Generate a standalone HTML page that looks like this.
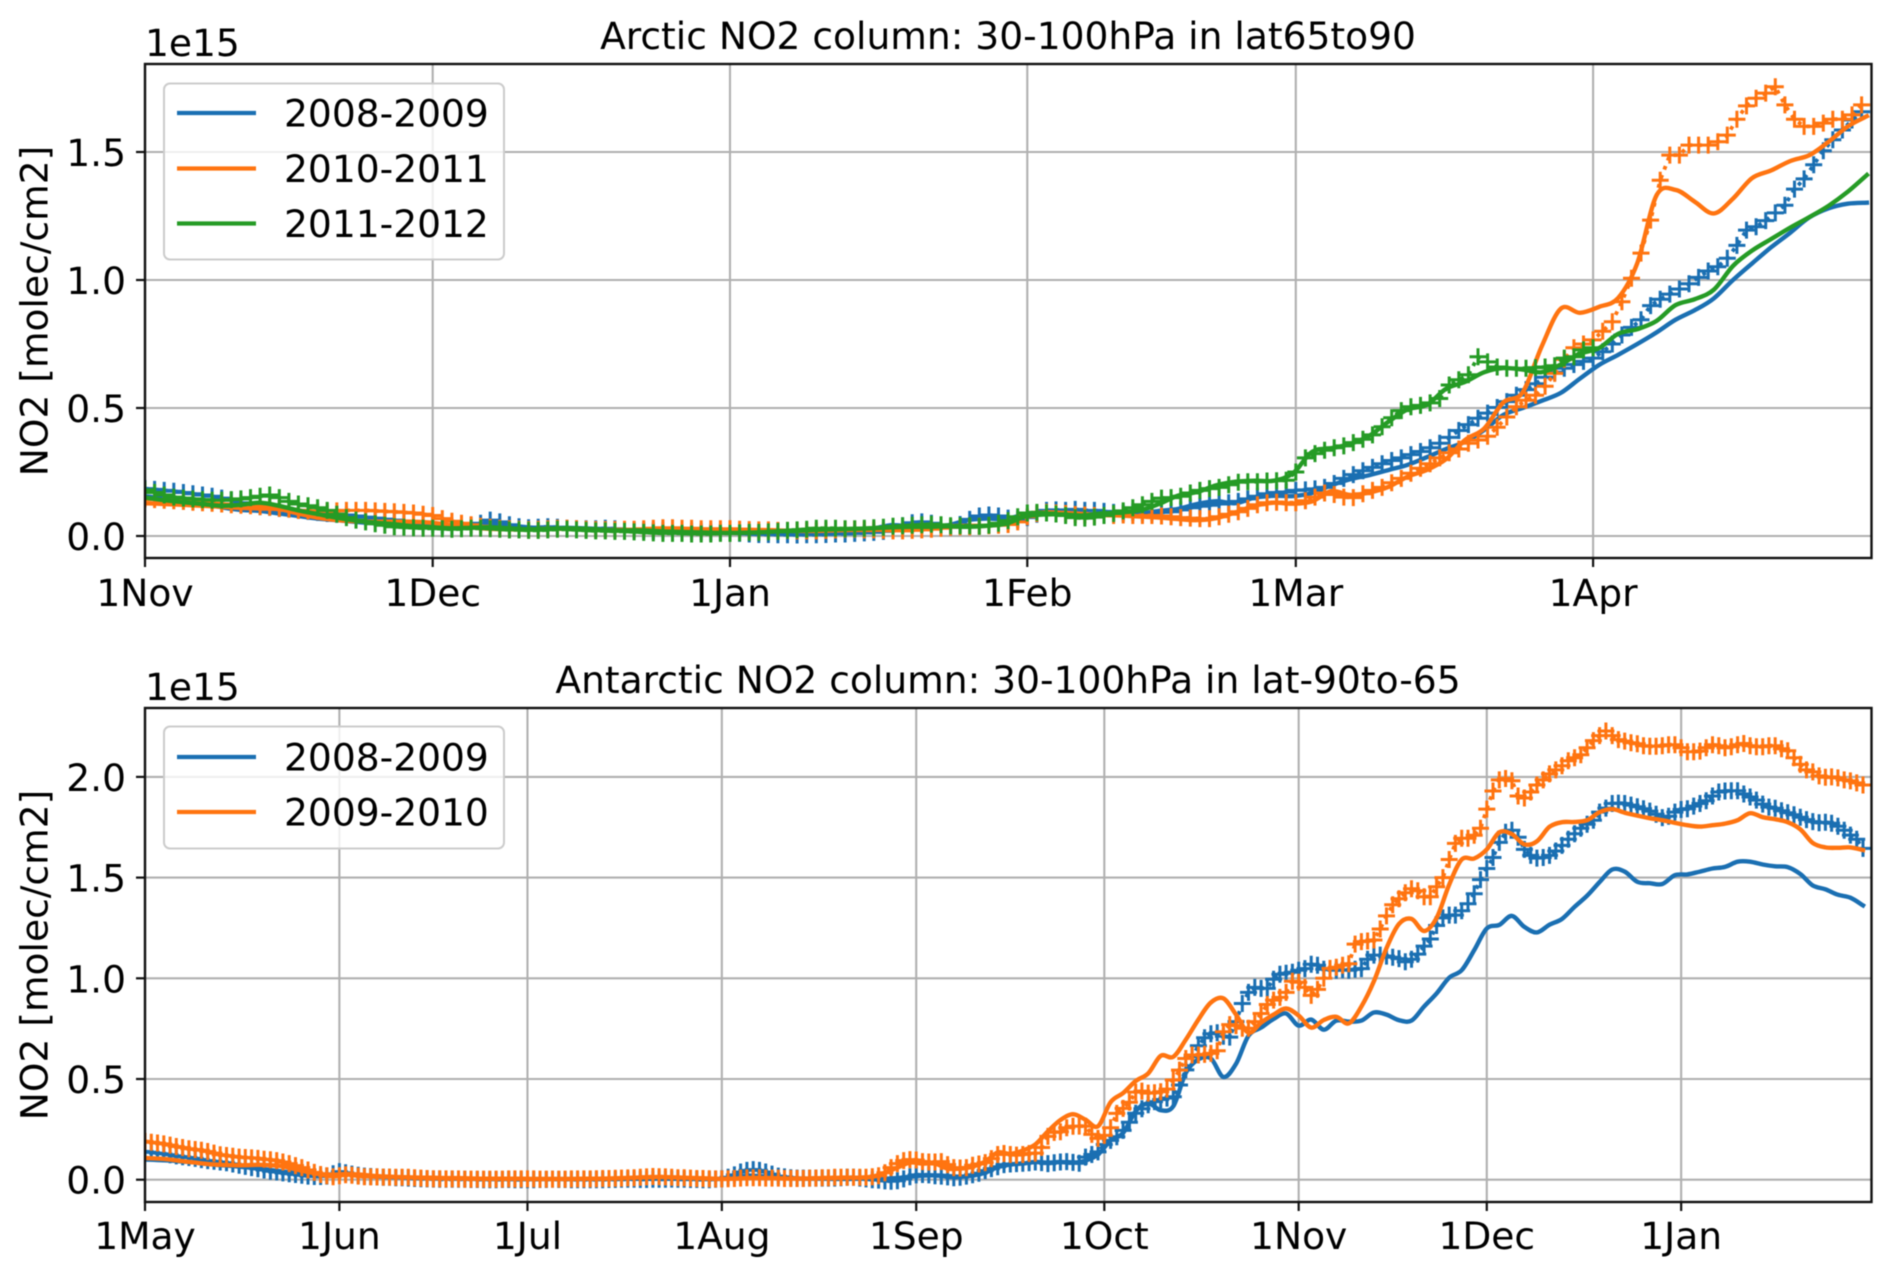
<!DOCTYPE html>
<html lang="en">
<head>
<meta charset="utf-8">
<title>Arctic and Antarctic NO2 column</title>
<style>
html,body{margin:0;padding:0;background:#fff;width:1892px;height:1277px;overflow:hidden}
svg{display:block;filter:blur(.45px)}
text{font-family:"DejaVu Sans","Liberation Sans",sans-serif;font-size:37.6px;fill:#000}
.leg{fill:#fff;fill-opacity:.8;stroke:#ccc;stroke-width:2}
.frame{fill:none;stroke:#111;stroke-width:2.4}
</style>
</head>
<body>
<svg xmlns="http://www.w3.org/2000/svg" width="1892" height="1277" viewBox="0 0 1892 1277">
<defs>
<clipPath id="clip-top"><rect x="145" y="64" width="1726.5" height="494"/></clipPath>
<clipPath id="clip-bot"><rect x="145" y="708" width="1726.5" height="494"/></clipPath>
</defs>
<rect width="1892" height="1277" fill="#fff"/>

<g>
<g id="top-grid"></g>
<g id="top-series" clip-path="url(#clip-top)"></g>
<rect class="frame" x="145" y="64" width="1726.5" height="494"/>
<g id="top-ticks"></g>
<text x="1008" y="49" text-anchor="middle">Arctic NO2 column: 30-100hPa in lat65to90</text>
<text x="145" y="56">1e15</text>
<text transform="translate(47.5,311) rotate(-90)" text-anchor="middle">NO2 [molec/cm2]</text>
<g>
<rect class="leg" x="164" y="83.5" width="340" height="176" rx="6"/>
<line x1="177" x2="256" y1="113" y2="113" stroke="#1a6fb2" stroke-width="4.2"/>
<text x="284" y="126.5">2008-2009</text>
<line x1="177" x2="256" y1="168.5" y2="168.5" stroke="#ff7410" stroke-width="4.2"/>
<text x="284" y="182">2010-2011</text>
<line x1="177" x2="256" y1="223.5" y2="223.5" stroke="#259b25" stroke-width="4.2"/>
<text x="284" y="237">2011-2012</text>
</g>
</g>

<g>
<g id="bot-grid"></g>
<g id="bot-series" clip-path="url(#clip-bot)"></g>
<rect class="frame" x="145" y="708" width="1726.5" height="494"/>
<g id="bot-ticks"></g>
<text x="1008" y="693" text-anchor="middle">Antarctic NO2 column: 30-100hPa in lat-90to-65</text>
<text x="145" y="700">1e15</text>
<text transform="translate(47.5,955) rotate(-90)" text-anchor="middle">NO2 [molec/cm2]</text>
<g>
<rect class="leg" x="164" y="726.5" width="340" height="122" rx="6"/>
<line x1="177" x2="256" y1="757" y2="757" stroke="#1a6fb2" stroke-width="4.2"/>
<text x="284" y="770.5">2008-2009</text>
<line x1="177" x2="256" y1="812" y2="812" stroke="#ff7410" stroke-width="4.2"/>
<text x="284" y="825.5">2009-2010</text>
</g>
</g>
</svg>

<script>
// All values are in units of 1e12 molec/cm2. Marker series are daily, solid series every 2 days.
const arcticMonthLabels = ['1Nov','1Dec','1Jan','1Feb','1Mar','1Apr'];
const arcticMonthDays = [0,30,61,92,120,151];
const arcticYTicks = [0,0.5,1.0,1.5];
const antarcticMonthLabels = ['1May','1Jun','1Jul','1Aug','1Sep','1Oct','1Nov','1Dec','1Jan'];
const antarcticMonthDays = [0,31,61,92,123,153,184,214,245];
const antarcticYTicks = [0,0.5,1.0,1.5,2.0];

const arcticBlueSolid = [
155,148,140,128,112,102,98,88,78,68,
62,55,50,45,40,36,32,38,50,42,
34,30,32,30,26,24,22,20,20,18,
16,14,14,15,16,18,20,22,28,42,
38,35,42,62,68,66,85,92,92,88,
84,84,88,98,106,125,136,128,150,157,
156,168,198,222,238,258,278,308,340,368,
414,473,500,528,559,615,668,708,750,795,
845,882,928,1000,1065,1128,1185,1245,1280,1298,
1302];
const arcticOrangeSolid = [
128,125,122,118,114,110,108,105,88,72,
62,58,56,56,56,52,42,34,28,26,
25,28,28,26,24,24,24,26,28,26,
25,24,24,22,20,20,22,24,24,28,
28,32,38,40,40,50,85,92,90,86,
82,80,76,72,66,62,70,92,118,130,
126,135,175,160,170,192,232,258,300,375,
420,522,560,740,888,872,895,930,1066,1330,
1352,1306,1260,1318,1398,1428,1465,1488,1540,1600,
1640];
const arcticGreenSolid = [
150,140,132,125,118,122,130,118,100,86,
72,60,52,46,38,34,30,32,34,30,
26,28,30,28,24,22,22,18,16,14,
12,12,14,18,20,24,26,28,30,34,
36,36,38,36,40,48,76,84,84,80,
88,92,100,125,158,172,198,212,216,216,
245,329,343,360,392,447,495,512,575,602,
640,656,650,640,670,712,734,790,808,840,
902,925,962,1055,1115,1160,1205,1246,1290,1345,
1410];
const arcticBlueMarkers = [
185,182,178,175,170,165,160,155,148,140,
130,122,115,112,108,105,100,96,92,88,
85,82,78,74,70,66,62,58,54,50,
46,42,38,36,40,50,62,55,44,36,
32,34,36,34,30,28,28,28,30,28,
24,24,22,20,22,22,20,18,16,14,
14,12,10,8,6,6,5,5,4,5,
5,6,8,8,10,12,14,18,25,40,
52,55,50,38,34,45,65,78,82,78,
70,64,72,85,100,102,100,104,100,100,
96,92,90,92,90,90,92,95,102,110,
116,120,125,130,135,145,155,165,170,172,
178,180,184,190,205,225,240,255,268,282,
295,305,318,330,345,362,385,412,435,460,
480,502,525,550,572,595,620,640,655,670,
682,695,720,750,785,815,845,900,925,945,
965,985,1010,1035,1052,1085,1135,1195,1208,1232,
1262,1292,1355,1395,1450,1505,1548,1586,1625,1657];
const arcticOrangeMarkers = [
145,142,140,138,135,132,130,128,125,122,
120,118,115,112,108,105,100,98,96,96,
98,100,100,100,98,96,95,92,90,85,
80,68,58,50,44,38,34,30,28,26,
25,26,28,30,30,28,26,25,25,25,
26,26,28,30,32,32,30,30,28,28,
28,28,26,25,24,24,22,22,20,20,
20,22,24,26,26,24,24,22,20,20,
22,24,26,30,34,36,36,38,40,42,
45,55,75,88,92,90,88,84,82,80,
80,80,82,80,80,80,78,75,72,70,
68,68,75,85,95,108,122,130,132,130,
130,138,152,168,162,152,150,165,178,190,
208,225,245,265,282,305,325,340,362,375,
390,425,465,505,530,550,585,635,690,735,
750,766,800,837,915,1007,1105,1234,1390,1488,
1488,1527,1527,1527,1540,1566,1628,1680,1710,1730,
1755,1684,1628,1600,1600,1613,1628,1628,1645,1684];
const arcticGreenMarkers = [
180,170,160,152,148,145,142,140,140,142,
145,150,155,160,150,135,125,118,110,100,
85,72,62,55,48,42,36,34,32,30,
30,28,26,28,30,30,28,26,24,24,
22,22,24,26,26,24,22,20,20,18,
18,16,14,12,10,10,10,8,8,8,
10,10,12,14,14,16,18,22,24,26,
30,30,30,28,28,30,32,34,38,40,
42,44,46,44,40,40,40,38,42,50,
60,75,90,92,90,86,80,72,70,74,
80,88,98,110,122,135,148,150,155,168,
178,185,190,200,210,212,212,215,216,218,
250,305,322,335,345,352,365,378,395,427,
462,490,505,510,520,537,590,610,630,700,
680,660,655,655,655,658,660,665,695,700,
727,735];

const antarcticBlueSolid = [
100,98,95,90,85,78,72,68,62,55,
48,40,32,26,22,22,26,24,18,14,
12,10,8,8,6,5,4,4,4,3,
3,3,3,3,3,3,3,3,4,5,
6,6,5,4,4,4,4,10,20,18,
14,8,6,5,5,4,4,5,5,5,
8,15,20,22,18,15,20,35,62,75,
80,88,85,88,84,95,125,195,232,340,
379,345,365,530,598,602,510,575,715,755,
798,825,765,795,745,790,785,790,830,820,
792,790,860,925,1003,1040,1140,1248,1265,1310,
1255,1228,1266,1295,1355,1410,1478,1540,1530,1479,
1472,1468,1512,1516,1530,1545,1553,1579,1579,1565,
1556,1552,1518,1461,1442,1415,1400,1362];
const antarcticOrangeSolid = [
108,105,100,92,85,78,74,72,72,74,
72,66,52,38,28,25,28,26,20,16,
14,12,10,10,8,8,6,5,5,5,
5,4,4,4,4,5,5,6,8,10,
12,14,12,10,8,6,4,5,8,8,
8,6,6,6,8,8,10,10,15,35,
60,85,80,80,55,55,65,90,135,128,
145,175,240,296,325,298,265,385,430,490,
528,615,610,695,795,880,900,820,730,780,
820,850,815,755,793,809,776,860,985,1150,
1270,1295,1235,1300,1465,1590,1595,1640,1725,1716,
1665,1680,1752,1775,1776,1785,1825,1840,1822,1808,
1795,1785,1772,1760,1753,1760,1768,1785,1820,1800,
1790,1775,1740,1672,1650,1648,1650,1637];
const antarcticBlueMarkers = [
140,136,132,128,124,118,114,110,106,100,
95,92,88,84,78,72,66,60,54,48,
42,38,34,30,26,22,18,16,16,18,
30,40,35,28,22,18,16,14,12,12,
10,10,8,6,5,4,3,2,2,2,
2,2,1,1,0,0,0,1,1,0,
0,0,0,1,1,2,1,1,0,0,
0,0,0,0,1,1,2,2,2,1,
1,2,2,2,3,2,2,1,1,0,
0,2,5,12,24,38,46,50,46,38,
28,18,14,10,8,8,8,8,8,8,
8,10,12,12,8,4,0,-2,-6,-8,
-5,4,15,24,26,24,20,18,14,10,
12,18,25,32,45,55,64,75,78,80,
82,84,88,85,80,84,88,90,86,82,
112,125,138,175,195,213,245,285,330,352,
372,388,398,405,412,470,545,610,665,705,
725,730,712,708,785,875,930,955,950,950,
995,1020,1025,1030,1040,1048,1070,1065,1045,1042,
1040,1042,1040,1045,1048,1095,1115,1115,1110,1105,
1098,1082,1095,1120,1160,1195,1262,1300,1314,1314,
1335,1370,1420,1490,1545,1600,1675,1725,1735,1700,
1640,1610,1597,1600,1610,1632,1660,1690,1718,1745,
1765,1785,1825,1845,1868,1870,1868,1860,1852,1842,
1830,1815,1798,1805,1825,1838,1842,1855,1868,1882,
1905,1925,1930,1931,1931,1915,1900,1885,1865,1850,
1844,1832,1822,1812,1800,1788,1778,1772,1775,1770,
1755,1735,1711,1690,1645];
const antarcticOrangeMarkers = [
190,186,182,178,172,165,160,154,150,146,
140,132,124,120,116,112,110,108,106,102,
99,95,88,80,70,60,48,36,26,20,
15,20,25,22,18,15,14,14,13,13,
12,12,12,10,8,6,5,5,4,4,
4,3,3,3,3,3,3,3,4,4,
4,4,4,3,3,3,3,3,4,4,
4,4,5,6,6,7,8,9,10,12,
14,16,15,14,12,10,10,8,6,6,
5,4,4,5,6,8,10,10,10,8,
8,8,6,6,6,6,8,8,10,10,
12,12,12,12,12,12,15,20,35,60,
80,95,100,98,90,88,88,90,75,60,
58,60,72,78,85,105,125,130,125,122,
125,130,132,160,215,235,238,258,265,266,
266,225,205,220,258,329,354,385,435,440,
430,432,437,450,495,544,602,619,619,622,
627,640,735,770,765,752,752,785,825,870,
892,905,930,985,980,955,915,945,1000,1049,
1055,1065,1072,1170,1182,1185,1190,1245,1310,1365,
1395,1425,1445,1435,1405,1405,1455,1500,1590,1670,
1695,1695,1710,1745,1840,1930,1985,1992,1981,1905,
1895,1925,1960,1985,2015,2035,2055,2080,2095,2110,
2145,2180,2205,2228,2205,2185,2178,2170,2165,2155,
2152,2152,2155,2160,2160,2145,2125,2125,2128,2145,
2160,2155,2145,2150,2160,2166,2155,2150,2150,2155,
2155,2140,2130,2095,2062,2035,2025,2005,1998,2000,
1995,1985,1980,1970,1960];

const BLUE = '#1a6fb2';
const ORANGE = '#ff7410';
const GREEN = '#259b25';
const NS = 'http://www.w3.org/2000/svg';

function arcticX(day){ return 145 + 9.59 * day; }
function arcticY(value){ return 536 - 256 * value; }
function antarcticX(day){ return 145 + 6.27 * day; }
function antarcticY(value){ return 1179.7 - 201.4 * value; }

function markerDay(i){ return i; }
function solidDay(i){ return i * 2 * 0.9975; }
function solidDayAntarctic(i){ return i * 2; }

function makeEl(tag, parent){
  const el = document.createElementNS(NS, tag);
  parent.appendChild(el);
  return el;
}

function drawAxis(prefix, xFn, yFn, days, labels, yTicks, xTop, xBottom, labelBaseline, panel){
  const grid = document.getElementById(prefix + '-grid');
  const ticks = document.getElementById(prefix + '-ticks');
  days.forEach(function(day, i){
    const x = xFn(day);
    const g = makeEl('line', grid);
    
    
    g.setAttribute('x1', x); g.setAttribute('x2', x);
    g.setAttribute('y1', xTop); g.setAttribute('y2', xBottom);
    g.setAttribute('stroke', '#b0b0b0'); g.setAttribute('stroke-width', '2.1');
    const t = makeEl('line', ticks);
    
    
    t.setAttribute('x1', x); t.setAttribute('x2', x);
    t.setAttribute('y1', xBottom); t.setAttribute('y2', xBottom + 9);
    t.setAttribute('stroke', '#111'); t.setAttribute('stroke-width', '2.2');
    const lab = makeEl('text', ticks);
    
    
    lab.setAttribute('x', x); lab.setAttribute('y', labelBaseline);
    lab.setAttribute('text-anchor', 'middle');
    lab.textContent = labels[i];
  });
  yTicks.forEach(function(value){
    const y = yFn(value);
    const g = makeEl('line', grid);
    
    
    g.setAttribute('x1', 145); g.setAttribute('x2', 1871.5);
    g.setAttribute('y1', y); g.setAttribute('y2', y);
    g.setAttribute('stroke', '#b0b0b0'); g.setAttribute('stroke-width', '2.1');
    const t = makeEl('line', ticks);
    
    
    t.setAttribute('x1', 136); t.setAttribute('x2', 145);
    t.setAttribute('y1', y); t.setAttribute('y2', y);
    t.setAttribute('stroke', '#111'); t.setAttribute('stroke-width', '2.2');
    const lab = makeEl('text', ticks);
    
    
    lab.setAttribute('x', 126); lab.setAttribute('y', y + 14);
    lab.setAttribute('text-anchor', 'end');
    lab.textContent = value.toFixed(1);
  });
}

function linePath(values, dayFn, xFn, yFn){
  return values.map(function(v, i){
    return (i ? 'L' : 'M') + xFn(dayFn(i)).toFixed(1) + ' ' + yFn(v / 1000).toFixed(1);
  }).join('');
}

// Smooth curve through every value (Catmull-Rom segments); each vertex still comes from the data.
function curvePath(values, dayFn, xFn, yFn){
  const px = values.map(function(v, i){ return xFn(dayFn(i)); });
  const py = values.map(function(v){ return yFn(v / 1000); });
  const last = values.length - 1;
  let d = 'M' + px[0].toFixed(1) + ' ' + py[0].toFixed(1);
  for (let i = 0; i < last; i++) {
    const a = Math.max(i - 1, 0);
    const b = Math.min(i + 2, last);
    const c1x = px[i] + (px[i + 1] - px[a]) / 6;
    const c1y = py[i] + (py[i + 1] - py[a]) / 6;
    const c2x = px[i + 1] - (px[b] - px[i]) / 6;
    const c2y = py[i + 1] - (py[b] - py[i]) / 6;
    d += 'C' + c1x.toFixed(1) + ' ' + c1y.toFixed(1) + ' ' + c2x.toFixed(1) + ' ' + c2y.toFixed(1) + ' ' + px[i + 1].toFixed(1) + ' ' + py[i + 1].toFixed(1);
  }
  return d;
}

function plusPath(values, dayFn, xFn, yFn){
  return values.map(function(v, i){
    const x = xFn(dayFn(i));
    const y = yFn(v / 1000);
    return 'M' + (x - 8.5).toFixed(1) + ' ' + y.toFixed(1) + 'h17M' + x.toFixed(1) + ' ' + (y - 8.5).toFixed(1) + 'v17';
  }).join('');
}

function drawMarkers(parent, values, color, xFn, yFn, name){
  const dots = makeEl('path', parent);
  
  
  dots.setAttribute('d', linePath(values, markerDay, xFn, yFn));
  dots.setAttribute('fill', 'none');
  dots.setAttribute('stroke', color);
  dots.setAttribute('stroke-width', '3.8');
  dots.setAttribute('stroke-dasharray', '3.8 5.8');
  const plus = makeEl('path', parent);
  
  
  plus.setAttribute('d', plusPath(values, markerDay, xFn, yFn));
  plus.setAttribute('fill', 'none');
  plus.setAttribute('stroke', color);
  plus.setAttribute('stroke-width', '3');
}

function drawSolid(parent, values, color, dayFn, xFn, yFn, name){
  const p = makeEl('path', parent);
  
  
  p.setAttribute('d', curvePath(values, dayFn, xFn, yFn));
  p.setAttribute('fill', 'none');
  p.setAttribute('stroke', color);
  p.setAttribute('stroke-width', '4.4');
  p.setAttribute('stroke-linejoin', 'round');
  p.setAttribute('stroke-linecap', 'square');
}

drawAxis('top', arcticX, arcticY, arcticMonthDays, arcticMonthLabels, arcticYTicks, 64, 558, 606, 'arctic');
drawAxis('bot', antarcticX, antarcticY, antarcticMonthDays, antarcticMonthLabels, antarcticYTicks, 708, 1202, 1249, 'antarctic');

const topSeries = document.getElementById('top-series');
drawMarkers(topSeries, arcticBlueMarkers, BLUE, arcticX, arcticY, 'arctic-2008-2009');
drawSolid(topSeries, arcticBlueSolid, BLUE, solidDay, arcticX, arcticY, 'arctic-2008-2009');
drawMarkers(topSeries, arcticOrangeMarkers, ORANGE, arcticX, arcticY, 'arctic-2010-2011');
drawSolid(topSeries, arcticOrangeSolid, ORANGE, solidDay, arcticX, arcticY, 'arctic-2010-2011');
drawMarkers(topSeries, arcticGreenMarkers, GREEN, arcticX, arcticY, 'arctic-2011-2012');
drawSolid(topSeries, arcticGreenSolid, GREEN, solidDay, arcticX, arcticY, 'arctic-2011-2012');

const botSeries = document.getElementById('bot-series');
drawMarkers(botSeries, antarcticBlueMarkers, BLUE, antarcticX, antarcticY, 'antarctic-2008-2009');
drawSolid(botSeries, antarcticBlueSolid, BLUE, solidDayAntarctic, antarcticX, antarcticY, 'antarctic-2008-2009');
drawMarkers(botSeries, antarcticOrangeMarkers, ORANGE, antarcticX, antarcticY, 'antarctic-2009-2010');
drawSolid(botSeries, antarcticOrangeSolid, ORANGE, solidDayAntarctic, antarcticX, antarcticY, 'antarctic-2009-2010');
</script>
</body>
</html>
